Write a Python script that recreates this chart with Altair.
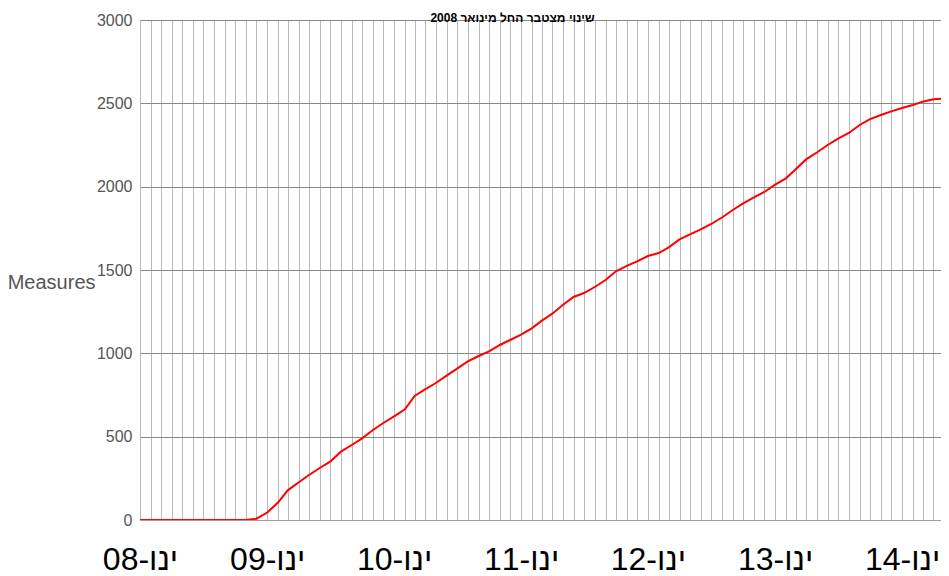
import altair as alt
import pandas as pd

# Monthly cumulative measures, Jan 2008 onward
values = [
    0, 0, 0, 0, 0, 0, 0, 0, 0, 0, 0,
    8, 45, 105, 178, 225, 270, 312, 350, 410, 450,
    490, 540, 582, 622, 664, 744, 785, 822, 866, 908,
    952, 984, 1012, 1050, 1080, 1112, 1150, 1195, 1238, 1290,
    1338, 1362, 1398, 1440, 1492, 1525, 1552, 1584, 1602, 1636,
    1684, 1714, 1744, 1776, 1815, 1860, 1900, 1936, 1968, 2012,
    2050, 2105, 2165, 2205, 2250, 2288, 2322, 2370, 2405, 2430,
    2452, 2472, 2490, 2510, 2524, 2528, 2530,
]
dates = [d.strftime("%Y/%m/%d") for d in pd.date_range("2008-01-01", periods=len(values), freq="MS")]
y_ticks = [0, 500, 1000, 1500, 2000, 2500, 3000]
title_text = "שינוי מצטבר החל מינואר 2008"
y_title = "Measures"

df = pd.DataFrame({"date": dates, "value": values})

grid_months = [alt.DateTime(year=d.year, month=d.month, date=1)
               for d in pd.date_range("2008-01-01", "2014-04-01", freq="MS")]

FONT = "Liberation Sans"

x_enc = alt.X(
    "date:T",
    scale=alt.Scale(domain=[alt.DateTime(year=2008, month=1, date=1),
                            alt.DateTime(year=2014, month=4, date=23)]),
    axis=alt.Axis(
        values=grid_months,
        labelExpr="month(datum.value) == 0 ? 'ינו-' + timeFormat(datum.value, '%y') : ''",
        title=None,
        ticks=False,
        labelPadding=49,
        labelBaseline="alphabetic",
        labelFontSize=32,
        labelColor="#000000",
        labelFont=FONT,
        labelOverlap=False,
        labelFlush=False,
        grid=True,
        gridColor="#b8b8b8",
        gridWidth=1,
        domain=True,
        domainColor="#a0a0a0",
    ),
)

y_enc = alt.Y(
    "value:Q",
    scale=alt.Scale(domain=[0, 3000], nice=False),
    axis=alt.Axis(
        values=y_ticks,
        format="d",
        title=y_title,
        titleAngle=0,
        titleAlign="right",
        titleBaseline="alphabetic",
        titleX=-45,
        titleY=268,
        titleFont=FONT,
        titleFontSize=20,
        titleFontWeight="normal",
        titleColor="#555555",
        ticks=False,
        labelPadding=8,
        labelFontSize=16,
        labelFont=FONT,
        labelColor="#555555",
        grid=True,
        gridColor="#888888",
        gridWidth=1,
        domain=False,
    ),
)

chart = (
    alt.Chart(df)
    .mark_line(color="#ff0000", strokeWidth=2, clip=True)
    .encode(x=x_enc, y=y_enc)
    .properties(
        width=801,
        height=500,
        title=alt.TitleParams(
            text=title_text,
            font=FONT,
            fontSize=12,
            fontWeight="bold",
            color="#000000",
            anchor="middle",
            baseline="alphabetic",
            offset=0,
            dx=-28,
            dy=22,
        ),
        autosize=alt.AutoSizeParams(type="none"),
        padding={"left": 132, "top": 12, "right": 0, "bottom": 56},
    )
    .configure_view(stroke=None)
    .configure(background="white")
)

chart.save("out.html", embed_options={"renderer": "svg", "actions": False})
